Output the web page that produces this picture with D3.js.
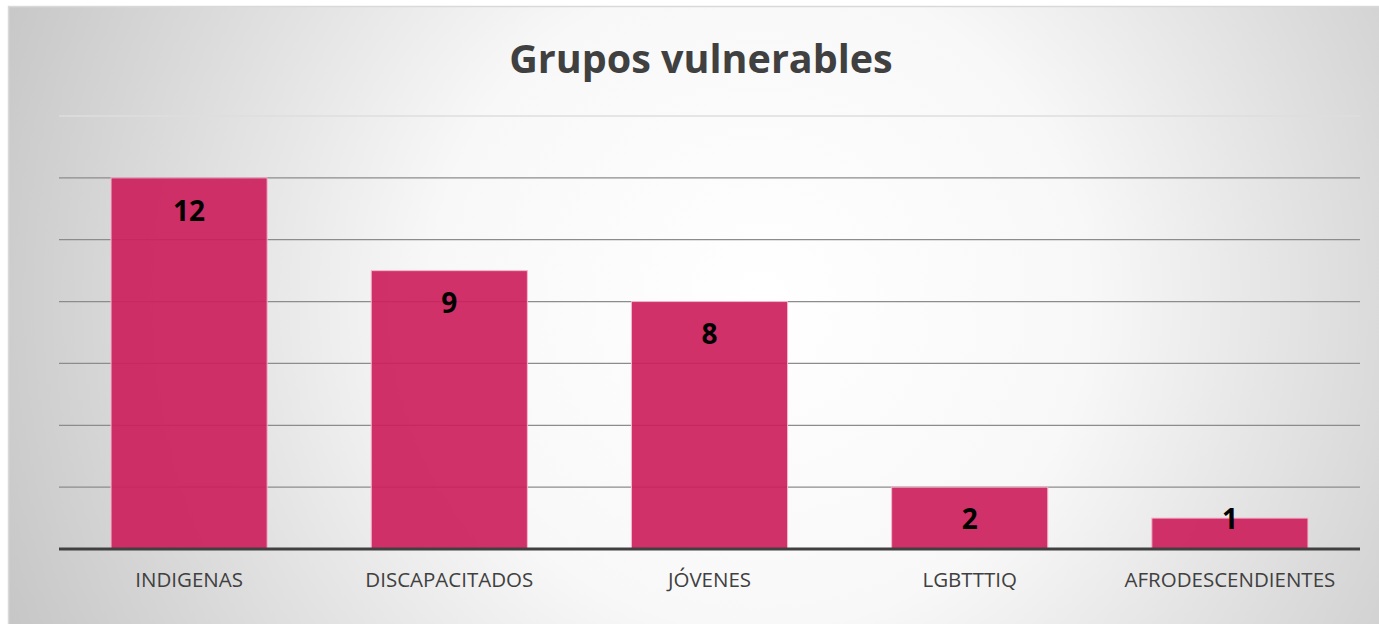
<!DOCTYPE html>
<html><head><meta charset="utf-8">
<script src="https://cdn.jsdelivr.net/npm/d3@7"></script>
<style>html,body{margin:0;padding:0;background:#fff;overflow:hidden}</style>
</head><body>
<svg id="chart" width="1379" height="624"></svg>
<script>
const categories = ["INDIGENAS","DISCAPACITADOS","JÓVENES","LGBTTTIQ","AFRODESCENDIENTES"];
const values = [12, 9, 8, 2, 1];
const yTicks = [0, 2, 4, 6, 8, 10, 12, 14];
const title = "Grupos vulnerables";

const svg = d3.select("#chart");
const W = 1379, H = 624;
const defs = svg.append("defs");
const grad = defs.append("radialGradient").attr("id","bg")
  .attr("gradientUnits","userSpaceOnUse")
  .attr("cx", 760).attr("cy", 300).attr("r", 820);
grad.append("stop").attr("offset","0%").attr("stop-color","#ffffff");
grad.append("stop").attr("offset","40%").attr("stop-color","#f8f8f8");
grad.append("stop").attr("offset","100%").attr("stop-color","#c6c6c6");

svg.append("rect").attr("x",8.5).attr("y",6.5).attr("width",W).attr("height",H)
  .attr("fill","url(#bg)").attr("stroke","#d9d9d9").attr("stroke-width",1.5);

const m = {left:59, right:1360, top:116, bottom:549};
const x = d3.scaleBand().domain(categories).range([m.left, m.right]).paddingInner(0.4).paddingOuter(0.2);
const y = d3.scaleLinear().domain([0, 14]).range([m.bottom, m.top]);

// gridlines
svg.append("g").selectAll("line").data(yTicks.filter(d => d > 0)).join("line")
  .attr("x1", m.left).attr("x2", m.right)
  .attr("y1", d => y(d)).attr("y2", d => y(d))
  .attr("stroke", d => d === 14 ? "#dedede" : "#8c8c8c").attr("stroke-width", 1.3);

// bars
svg.append("g").selectAll("rect").data(values).join("rect")
  .attr("x", (d,i) => x(categories[i]))
  .attr("width", x.bandwidth())
  .attr("y", d => y(d))
  .attr("height", d => y(0) - y(d))
  .attr("fill", "#cc1f5c").attr("fill-opacity", 0.92)
  .attr("stroke", "#f4b8cc").attr("stroke-width", 1);

// baseline
svg.append("line").attr("x1", m.left).attr("x2", m.right)
  .attr("y1", y(0)).attr("y2", y(0)).attr("stroke", "#404040").attr("stroke-width", 3);

// value labels
svg.append("g").selectAll("text").data(values).join("text")
  .attr("x", (d,i) => x(categories[i]) + x.bandwidth()/2)
  .attr("y", d => Math.min(y(d) + 33, y(0) - 30))
  .attr("dy", "0.35em")
  .attr("text-anchor", "middle")
  .attr("font-family", "Open Sans, sans-serif").attr("font-weight", "bold")
  .attr("font-size", 28).attr("fill", "#000")
  .text(d => d);

// category axis labels
const xAxis = d3.axisBottom(x).tickSize(0).tickPadding(0);
const gx = svg.append("g").attr("transform", `translate(0,${y(0)})`).call(xAxis);
gx.select(".domain").remove();
gx.selectAll("text").attr("y", 31).attr("dy", "0.35em")
  .attr("font-family", "Open Sans, sans-serif").attr("font-size", 20.5).attr("fill", "#404040");

// title
svg.append("text").attr("x", 701).attr("y", 59).attr("dy", "0.35em")
  .attr("text-anchor", "middle")
  .attr("font-family", "Open Sans, sans-serif").attr("font-weight", "bold")
  .attr("font-size", 39.5).attr("fill", "#404040").text(title);
</script>
</body></html>
